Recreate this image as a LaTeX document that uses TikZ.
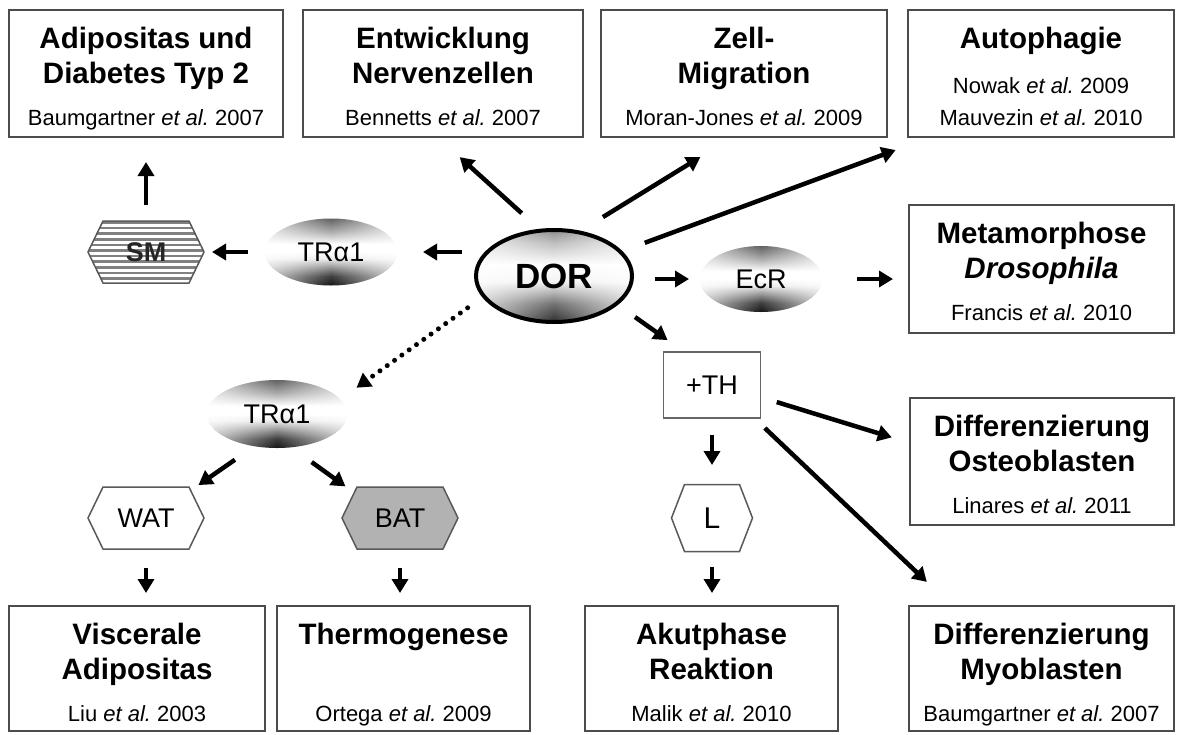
\documentclass[tikz,border=0pt]{standalone}
\usepackage{fontspec}
\setmainfont{Liberation Sans}
\frenchspacing
\usetikzlibrary{arrows.meta,calc,fadings,shapes.geometric}
\pgfdeclarelayer{bg}
\pgfsetlayers{bg,main}
\tikzfading[name=sidefade, left color=transparent!25, right color=transparent!25, middle color=transparent!100]
\pgfdeclareverticalshading{cylsmall}{100bp}{color(0bp)=(black!92); color(25bp)=(black!92); color(32bp)=(black!75); color(45bp)=(black!8); color(50bp)=(white); color(56bp)=(white); color(66bp)=(black!35); color(75bp)=(black!62); color(100bp)=(black!62)}
\pgfdeclareverticalshading{cylbig}{100bp}{color(0bp)=(black!82); color(25bp)=(black!82); color(35bp)=(black!55); color(47bp)=(black!5); color(56bp)=(white); color(68bp)=(black!25); color(75bp)=(black!45); color(100bp)=(black!45)}
\tikzset{
  box/.style={rectangle, draw=black!70, line width=2pt, fill=white, inner sep=0pt, outer sep=0pt},
  ttl/.style={anchor=base, inner sep=0pt, font=\fontsize{29.5}{33}\selectfont\bfseries},
  cit/.style={anchor=base, inner sep=0pt, font=\fontsize{22}{26}\selectfont},
  ell/.style={ellipse, inner sep=0pt, outer sep=0pt, font=\fontsize{27}{30}\selectfont},
  hexn/.style={rectangle, inner sep=0pt, outer sep=0pt, minimum width=116pt, minimum height=62pt, font=\fontsize{27}{30}\selectfont},
  hexline/.style={draw=black!65, line width=1.5pt},
  arr/.style={line width=4.5pt, -{Triangle[length=14pt,width=16pt]}},
  dotarr/.style={line width=5pt, line cap=round, dash pattern=on 0pt off 9pt, -{Triangle[length=14pt,width=16pt]}},
}
\begin{document}
\begin{tikzpicture}[x=1pt,y=-1pt]
\path[use as bounding box] (0,0) rectangle (1183,734);

% boxes
\node[box, minimum width=274pt, minimum height=127pt] (b1) at (146,73.5) {};
\node[box, minimum width=280pt, minimum height=127pt] (b2) at (443,73.5) {};
\node[box, minimum width=286pt, minimum height=127pt] (b3) at (744,73.5) {};
\node[box, minimum width=266pt, minimum height=127pt] (b4) at (1041,73.5) {};
\node[box, minimum width=265pt, minimum height=128pt] (b5) at (1041.5,269) {};
\node[box, minimum width=264pt, minimum height=127pt] (b6) at (1042,461.5) {};
\node[box, minimum width=256pt, minimum height=125pt] (b7) at (137,668.5) {};
\node[box, minimum width=253pt, minimum height=125pt] (b8) at (403.5,668.5) {};
\node[box, minimum width=253pt, minimum height=125pt] (b9) at (711.5,668.5) {};
\node[box, minimum width=265pt, minimum height=125pt] (b10) at (1041.5,668.5) {};

% box texts
\node[ttl] at ($(b1.north)+(0,38)$) {Adipositas und};
\node[ttl] at ($(b1.north)+(0,73)$) {Diabetes Typ 2};
\node[cit] at ($(b1.north)+(0,115)$) {Baumgartner \textit{et al.} 2007};
\node[ttl] at ($(b2.north)+(0,38)$) {Entwicklung};
\node[ttl] at ($(b2.north)+(0,73)$) {Nervenzellen};
\node[cit] at ($(b2.north)+(0,115)$) {Bennetts \textit{et al.} 2007};
\node[ttl] at ($(b3.north)+(0,38)$) {Zell-};
\node[ttl] at ($(b3.north)+(0,73)$) {Migration};
\node[cit] at ($(b3.north)+(0,115)$) {Moran-Jones \textit{et al.} 2009};
\node[ttl] at ($(b4.north)+(0,38)$) {Autophagie};
\node[cit] at ($(b4.north)+(0,83)$) {Nowak \textit{et al.} 2009};
\node[cit] at ($(b4.north)+(0,115)$) {Mauvezin \textit{et al.} 2010};
\node[ttl] at ($(b5.north)+(0,38)$) {Metamorphose};
\node[ttl] at ($(b5.north)+(0,73)$) {\textit{Drosophila}};
\node[cit] at ($(b5.north)+(0,115)$) {Francis \textit{et al.} 2010};
\node[ttl] at ($(b6.north)+(0,38)$) {Differenzierung};
\node[ttl] at ($(b6.north)+(0,73)$) {Osteoblasten};
\node[cit] at ($(b6.north)+(0,115)$) {Linares \textit{et al.} 2011};
\node[ttl] at ($(b7.north)+(0,38)$) {Viscerale};
\node[ttl] at ($(b7.north)+(0,73)$) {Adipositas};
\node[cit] at ($(b7.north)+(0,115)$) {Liu \textit{et al.} 2003};
\node[ttl] at ($(b8.north)+(0,38)$) {Thermogenese};
\node[cit] at ($(b8.north)+(0,115)$) {Ortega \textit{et al.} 2009};
\node[ttl] at ($(b9.north)+(0,38)$) {Akutphase};
\node[ttl] at ($(b9.north)+(0,73)$) {Reaktion};
\node[cit] at ($(b9.north)+(0,115)$) {Malik \textit{et al.} 2010};
\node[ttl] at ($(b10.north)+(0,38)$) {Differenzierung};
\node[ttl] at ($(b10.north)+(0,73)$) {Myoblasten};
\node[cit] at ($(b10.north)+(0,115)$) {Baumgartner \textit{et al.} 2007};

% inner nodes
\node[ell, minimum width=156pt, minimum height=92pt, font=\fontsize{35}{40}\selectfont\bfseries] (dor) at (554,276) {DOR};
\node[ell, minimum width=132pt, minimum height=67pt] (tra1) at (331,252) {TRα1};
\node[ell, minimum width=122pt, minimum height=66pt] (ecr) at (761,279) {EcR};
\node[ell, minimum width=140pt, minimum height=68pt] (tra2) at (277,414) {TRα1};
\node[hexn, text=black!85, font=\fontsize{27}{30}\selectfont\bfseries] (sm) at (146,252) {SM};
\node[hexn] (wat) at (146,518) {WAT};
\node[hexn] (bat) at (400,518) {BAT};
\node[hexn, minimum width=81pt, minimum height=67pt, font=\fontsize{30}{34}\selectfont] (lh) at (712,518) {L};
\node[rectangle, draw=black!60, line width=1.5pt, inner sep=0pt, outer sep=0pt, minimum width=97pt, minimum height=66pt, font=\fontsize{27}{30}\selectfont] (th) at (712,385) {+TH};

% connectors
\draw[arr, shorten <=16pt, shorten >=25pt] (sm.north) -- (b1.south);
\draw[arr, shorten <=17pt, shorten >=8pt] (tra1.west) -- (sm.east);
\draw[arr, shorten <=14pt, shorten >=26pt] (dor.west |- tra1.east) -- (tra1.east);
\draw[arr, shorten <=23pt, shorten >=11pt] (dor.east |- ecr.west) -- (ecr.west);
\draw[arr, shorten <=35pt, shorten >=16pt] (ecr.east) -- (ecr.east -| b5.west);
\draw[arr, shorten <=23pt, shorten >=20.5pt] (dor.-24) -- (th.130);
\draw[arr, shorten <=17pt, shorten >=19.5pt] (th.south) -- (th.south |- lh.north);
\draw[arr, shorten <=15.5pt, shorten >=13pt] (lh.south) -- (lh.south |- b9.north);
\draw[arr, shorten <=17pt, shorten >=19pt] (th.-14) -- (b6.172);
\draw[arr, shorten <=14.6pt, shorten >=35pt] (th.-38) -- (b10.145);
\draw[arr, shorten <=26pt, shorten >=30pt] (dor.106) -- (b2.265);
\draw[arr, shorten <=29pt, shorten >=38pt] (dor.61) -- (b3.260);
\draw[arr, shorten <=26pt, shorten >=37.7pt] (dor.20) -- (b4.210);
\draw[dotarr, shorten <=20pt, shorten >=20pt] (dor.196) -- (tra2.13);
\draw[arr, shorten <=23.8pt, shorten >=3.4pt] (tra2.235) -- (wat.32);
\draw[arr, shorten <=25.3pt, shorten >=1pt] (tra2.-67) -- (bat.150);
\draw[arr, shorten <=19pt, shorten >=13pt] (wat.south) -- (wat.south |- b7.north);
\draw[arr, shorten <=19pt, shorten >=13pt] (bat.south) -- (bat.south |- b8.north);

% shapes behind the labels
\begin{pgfonlayer}{bg}
\fill[white] (0,0) rectangle (1183,734);
\foreach \n/\rx/\ry in {tra1/66/33.5, ecr/61/33, tra2/70/34}{
  \shade[shading=cylsmall] (\n.center) ellipse [x radius=\rx pt, y radius=\ry pt];
  \fill[white, path fading=sidefade] (\n.center) ellipse [x radius=\rx pt, y radius=\ry pt];
}
\shade[shading=cylbig] (dor.center) ellipse [x radius=78pt, y radius=46pt];
\fill[white, path fading=sidefade] (dor.center) ellipse [x radius=78pt, y radius=46pt];
\draw[line width=4pt] (dor.center) ellipse [x radius=78pt, y radius=46pt];
\foreach \n/\s/\f in {sm/15/white, wat/15/white, bat/15/black!30, lh/13/white}{
  \fill[\f] (\n.west) -- ([xshift=\s pt]\n.north west) -- ([xshift=-\s pt]\n.north east) -- (\n.east) -- ([xshift=-\s pt]\n.south east) -- ([xshift=\s pt]\n.south west) -- cycle;
}
\begin{scope}
  \clip (sm.west) -- ([xshift=15pt]sm.north west) -- ([xshift=-15pt]sm.north east) -- (sm.east) -- ([xshift=-15pt]sm.south east) -- ([xshift=15pt]sm.south west) -- cycle;
  \foreach \k in {0,...,11}
    \draw[black!50, line width=2.6pt] ([yshift=-\k*5.6pt-1.5pt]sm.north west) -- ([yshift=-\k*5.6pt-1.5pt]sm.north east);
\end{scope}
\foreach \n/\s in {sm/15, wat/15, bat/15, lh/13}{
  \draw[hexline] (\n.west) -- ([xshift=\s pt]\n.north west) -- ([xshift=-\s pt]\n.north east) -- (\n.east) -- ([xshift=-\s pt]\n.south east) -- ([xshift=\s pt]\n.south west) -- cycle;
}
\end{pgfonlayer}
\end{tikzpicture}
\end{document}
